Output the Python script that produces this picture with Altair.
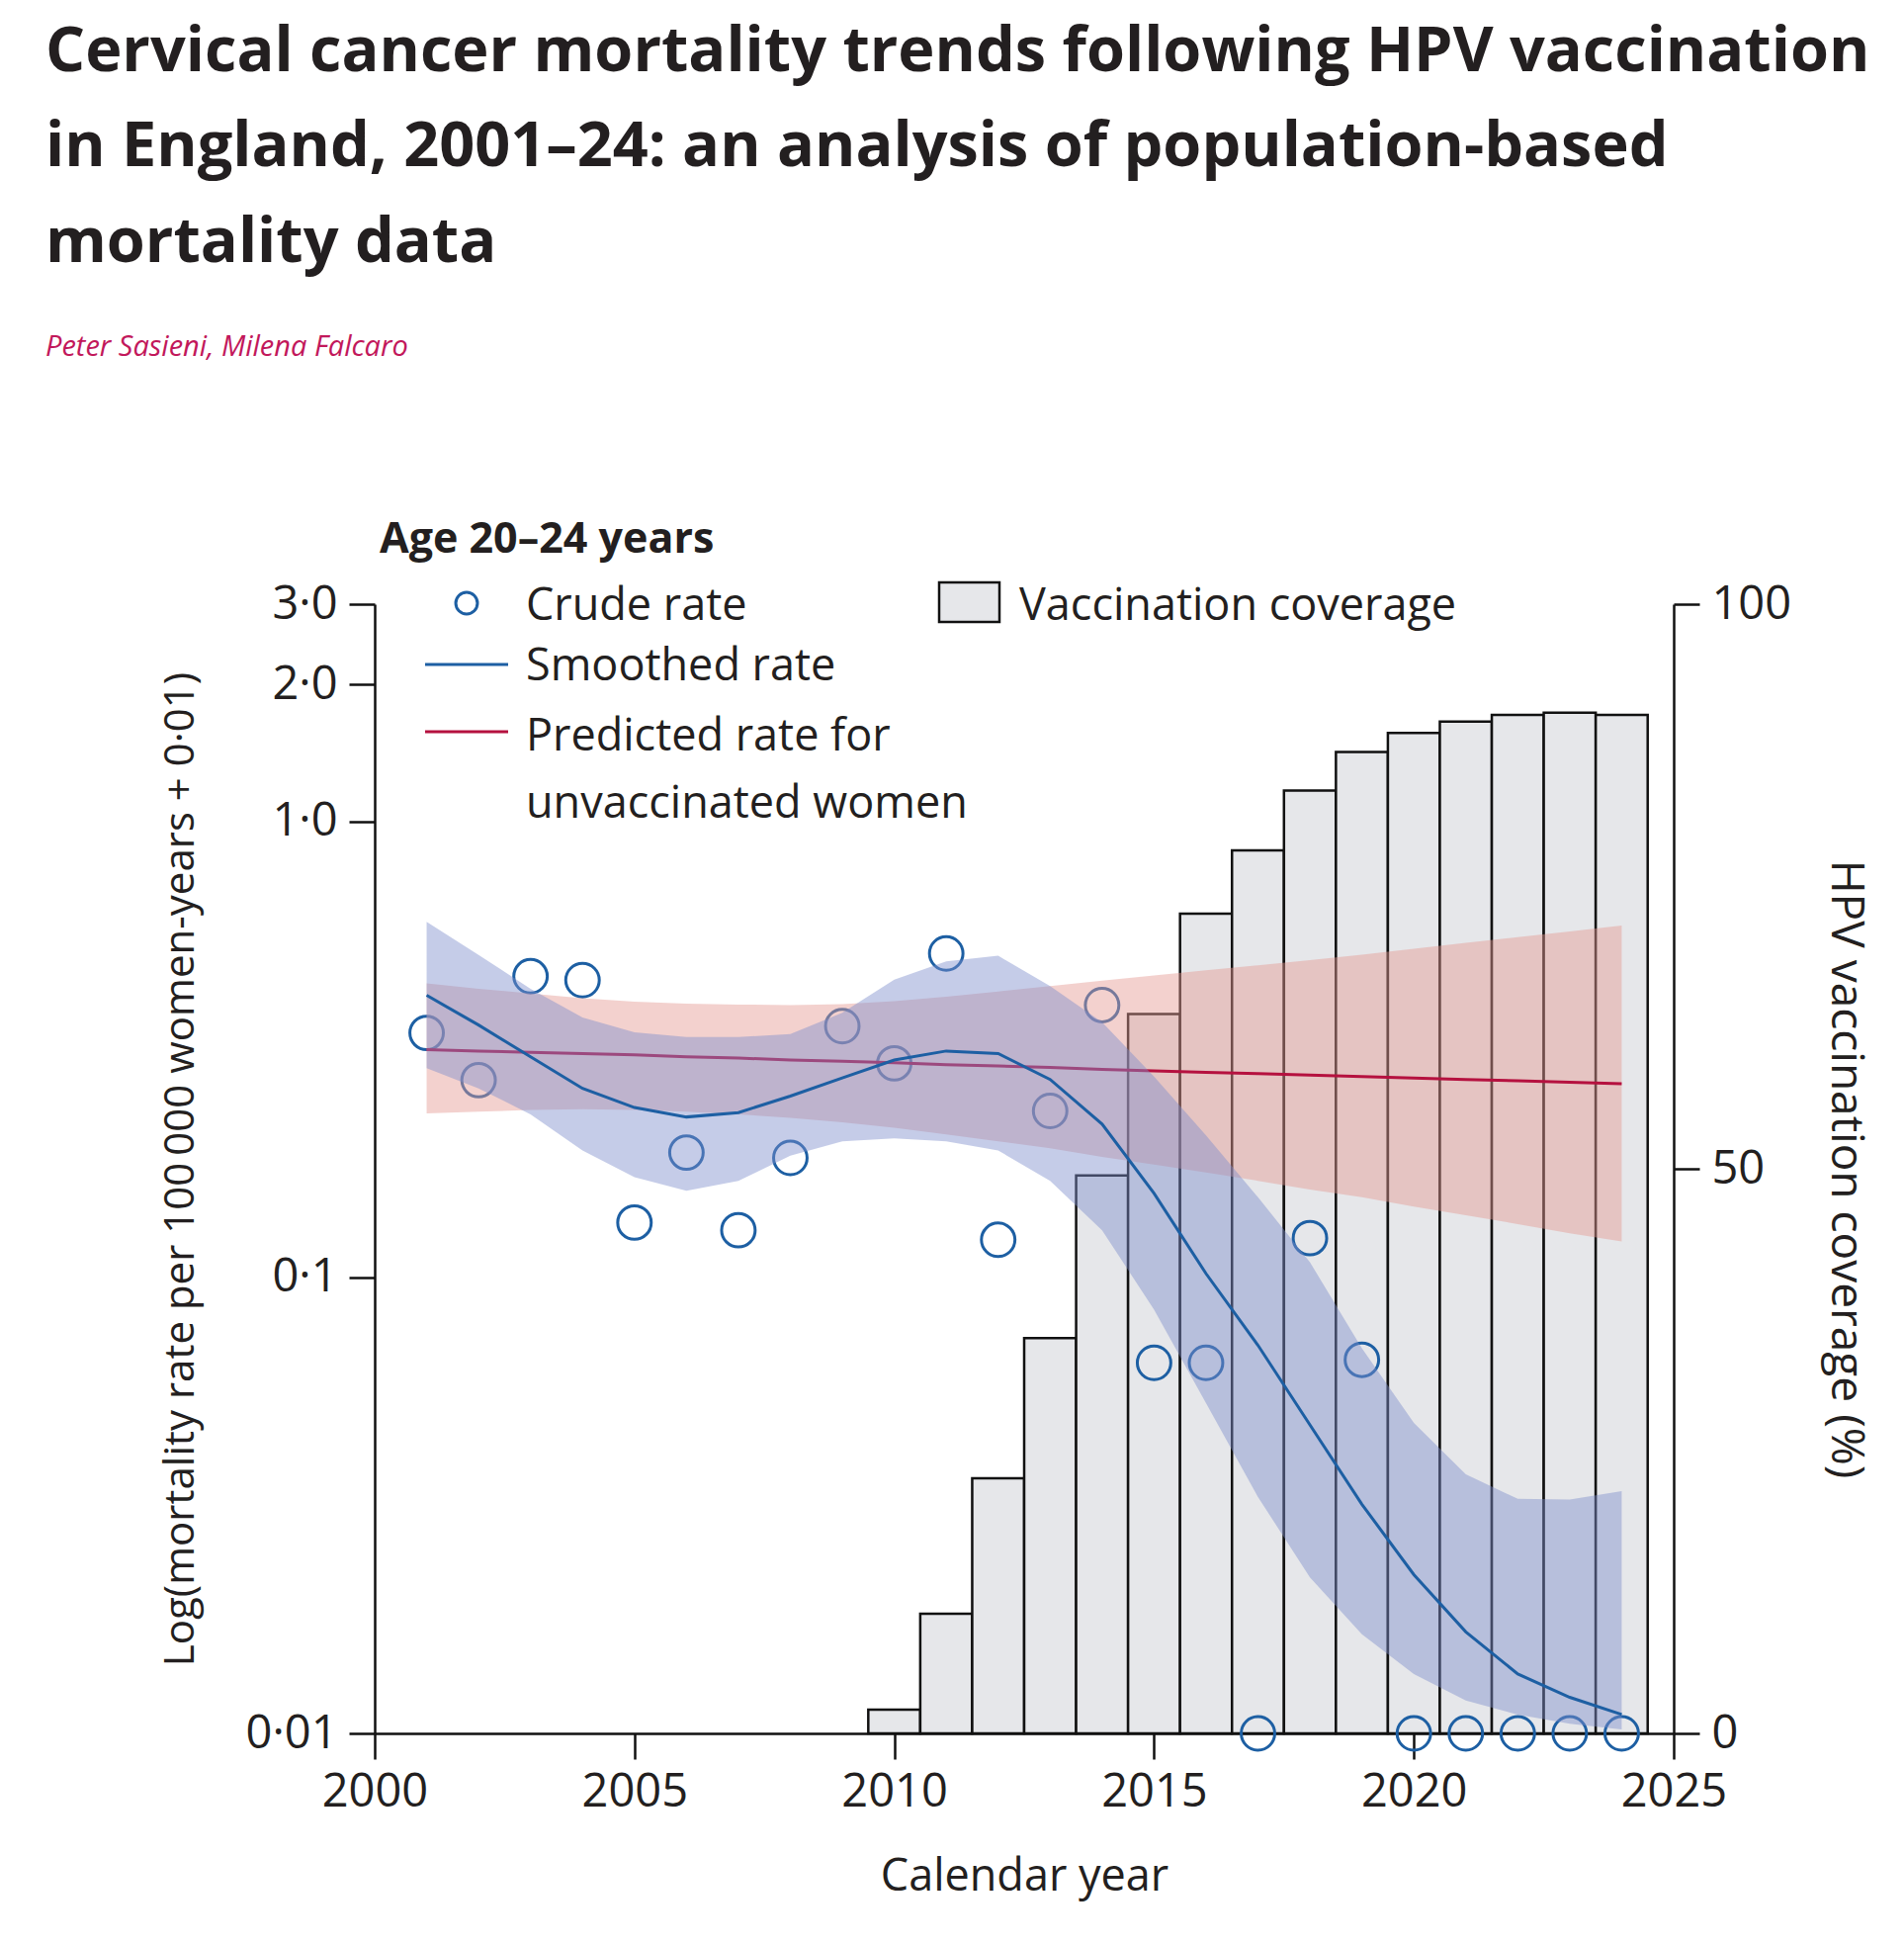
import altair as alt
import pandas as pd

# ---------------- data ----------------
years = list(range(2001, 2025))

# crude mortality rate per 100 000 women-years (plotted as rate + 0.01)
crude_rate = [0.334, 0.261, 0.448, 0.439, 0.122, 0.178, 0.117, 0.173, 0.346, 0.285,
              0.504, 0.111, 0.222, 0.386, 0.055, 0.055, 0.0, 0.112, 0.056, 0.0,
              0.0, 0.0, 0.0, 0.0]

# smoothed rate and its band, in axis units (rate + 0.01)
smoothed = [0.416, 0.358, 0.305, 0.260, 0.236, 0.225, 0.230, 0.250, 0.274, 0.300,
            0.314, 0.310, 0.272, 0.217, 0.153, 0.102, 0.071, 0.0475, 0.0318, 0.0223,
            0.0167, 0.0135, 0.0120, 0.0110]
smoothed_lo = [0.288, 0.260, 0.228, 0.190, 0.166, 0.155, 0.163, 0.185, 0.199, 0.202,
               0.199, 0.190, 0.163, 0.127, 0.085, 0.053, 0.033, 0.022, 0.0165, 0.0135,
               0.0118, 0.0110, 0.0105, 0.0102]
smoothed_hi = [0.603, 0.510, 0.430, 0.372, 0.345, 0.337, 0.337, 0.342, 0.381, 0.450,
               0.494, 0.508, 0.436, 0.363, 0.276, 0.205, 0.150, 0.108, 0.070, 0.048,
               0.037, 0.0327, 0.0326, 0.0340]

# predicted rate for unvaccinated women and its band, in axis units
predicted = [0.316, 0.314, 0.312, 0.310, 0.308, 0.305, 0.303, 0.300, 0.298, 0.296,
             0.293, 0.291, 0.289, 0.286, 0.284, 0.282, 0.280, 0.278, 0.276, 0.274,
             0.272, 0.270, 0.268, 0.266]
predicted_lo = [0.229, 0.231, 0.233, 0.234, 0.233, 0.231, 0.228, 0.224, 0.219, 0.213,
                0.206, 0.199, 0.192, 0.184, 0.177, 0.170, 0.163, 0.156, 0.150, 0.143,
                0.137, 0.131, 0.125, 0.120]
predicted_hi = [0.442, 0.430, 0.420, 0.410, 0.403, 0.399, 0.397, 0.396, 0.398, 0.404,
                0.413, 0.424, 0.436, 0.448, 0.460, 0.472, 0.484, 0.497, 0.511, 0.526,
                0.542, 0.558, 0.574, 0.592]

# HPV vaccination coverage (%)
coverage_years = list(range(2010, 2025))
coverage = [2.1, 10.6, 22.6, 35.0, 49.4, 63.7, 72.6, 78.2, 83.5, 86.9,
            88.6, 89.6, 90.2, 90.4, 90.2]

x_ticks = [2000, 2005, 2010, 2015, 2020, 2025]
y_ticks = [0.01, 0.1, 1, 2, 3]
cov_ticks = [0, 50, 100]

title_lines = ["Cervical cancer mortality trends following HPV vaccination",
               "in England, 2001–24: an analysis of population-based",
               "mortality data"]
authors = "Peter Sasieni, Milena Falcaro"
panel_title = "Age 20–24 years"
legend_labels = ["Crude rate", "Smoothed rate", "Predicted rate for",
                 "unvaccinated women", "Vaccination coverage"]

# ---------------- styling ----------------
W, H = 1314, 1142
FONT = "Open Sans"
INK = "#231f20"
BLUE = "#1d5fa3"
RED = "#b5113f"
BAR_FILL = "#e6e7ea"
PINK = "#e49993"
PERIWINKLE = "#7f8fcc"

main = pd.DataFrame({
    "year": years, "crude": crude_rate,
    "smooth": smoothed, "smooth_lo": smoothed_lo, "smooth_hi": smoothed_hi,
    "pred": predicted, "pred_lo": predicted_lo, "pred_hi": predicted_hi,
})
cov_df = pd.DataFrame({"year": coverage_years, "coverage": coverage})

x_scale = alt.Scale(domain=[2000, 2025], nice=False, zero=False)
y_scale = alt.Scale(type="log", domain=[0.01, 3], nice=False)

common_axis = dict(grid=False, domainColor="#111", domainWidth=2.5, tickColor="#111",
                   tickWidth=2.5, tickSize=26, labelFont=FONT, titleFont=FONT,
                   labelColor=INK, titleColor=INK, labelFontSize=47,
                   titleFontWeight="normal", labelOverlap=False)

x_axis = alt.Axis(values=x_ticks, format="d", title="Calendar year", labelPadding=10,
                  labelFlush=False, titleFontSize=45, titleX=W / 2, titleY=158,
                  titleBaseline="alphabetic", titleAlign="center", **common_axis)

y_axis = alt.Axis(values=y_ticks, orient="left",
                  labelExpr="datum.value < 0.05 ? '0·01' : (datum.value < 0.5 ? '0·1' : replace(format(datum.value, '.1f'), '.', '·'))",
                  title="Log(mortality rate per 100\u2009000 women-years + 0·01)",
                  labelPadding=12, titleFontSize=42, titleAngle=270, titleX=-184,
                  titleY=H / 2, titleBaseline="alphabetic", titleAlign="center",
                  **common_axis)

cov_axis = alt.Axis(values=cov_ticks, orient="right", title="HPV vaccination coverage (%)",
                    labelPadding=12, titleFontSize=46, titleAngle=90, titleX=159,
                    titleY=H / 2, titleBaseline="alphabetic", titleAlign="center",
                    **common_axis)

X = lambda f: alt.X(f, type="quantitative", scale=x_scale, axis=x_axis)

bars = alt.Chart(cov_df).transform_calculate(
    x0="datum.year - 0.5", x1="datum.year + 0.5"
).mark_rect(fill=BAR_FILL, stroke="#111", strokeWidth=2.5).encode(
    x=X("x0"), x2="x1:Q",
    y=alt.Y("coverage:Q", scale=alt.Scale(domain=[0, 100], nice=False), axis=cov_axis),
    y2=alt.datum(0),
)

base = alt.Chart(main)

points = base.transform_calculate(crude_plot="datum.crude + 0.01").mark_point(
    shape="circle", filled=False, size=1150, strokeWidth=3, color=BLUE, opacity=1
).encode(x=X("year"), y=alt.Y("crude_plot:Q", scale=y_scale, axis=y_axis))

pink_band = base.mark_area(color=PINK, opacity=0.45).encode(
    x=X("year"), y=alt.Y("pred_lo:Q", scale=y_scale, axis=y_axis), y2="pred_hi:Q")

red_line = base.mark_line(color=RED, strokeWidth=3).encode(
    x=X("year"), y=alt.Y("pred:Q", scale=y_scale, axis=y_axis))

blue_band = base.mark_area(color=PERIWINKLE, opacity=0.45).encode(
    x=X("year"), y=alt.Y("smooth_lo:Q", scale=y_scale, axis=y_axis), y2="smooth_hi:Q")

blue_line = base.mark_line(color=BLUE, strokeWidth=3).encode(
    x=X("year"), y=alt.Y("smooth:Q", scale=y_scale, axis=y_axis))


def text_layer(s, x, y, size, weight="normal", style="normal", color=INK, font=FONT):
    return alt.Chart(pd.DataFrame({"t": [s]})).mark_text(
        align="left", baseline="alphabetic", fontSize=size, fontWeight=weight,
        fontStyle=style, color=color, font=font
    ).encode(x=alt.value(x), y=alt.value(y), text="t:N")


one = pd.DataFrame({"a": [0]})

legend = [
    text_layer(panel_title, 5, -52, 43, weight="bold"),
    alt.Chart(one).mark_point(shape="circle", filled=False, size=480, strokeWidth=3,
                              color=BLUE, opacity=1).encode(x=alt.value(93), y=alt.value(-1)),
    text_layer(legend_labels[0], 153, 16, 45),
    alt.Chart(one).mark_rule(color=BLUE, strokeWidth=3).encode(
        x=alt.value(51), x2=alt.value(135), y=alt.value(61)),
    text_layer(legend_labels[1], 153, 77, 45),
    alt.Chart(one).mark_rule(color=RED, strokeWidth=3).encode(
        x=alt.value(51), x2=alt.value(135), y=alt.value(129)),
    text_layer(legend_labels[2], 153, 148, 45),
    text_layer(legend_labels[3], 153, 216, 45),
    alt.Chart(one).mark_rect(fill=BAR_FILL, stroke="#111", strokeWidth=2.5).encode(
        x=alt.value(571), x2=alt.value(632), y=alt.value(-22), y2=alt.value(18)),
    text_layer(legend_labels[4], 652, 16, 45),
]

header = [
    text_layer(title_lines[0], -333, -539, 63, weight="bold"),
    text_layer(title_lines[1], -333, -443, 63, weight="bold"),
    text_layer(title_lines[2], -333, -346, 63, weight="bold"),
    text_layer(authors, -333, -251, 29, style="italic", color="#c2185b"),
]

inner = alt.layer(points, pink_band, red_line, blue_band, blue_line, *legend, *header)

chart = alt.layer(bars, inner).resolve_scale(y="independent").properties(
    width=W, height=H,
    padding={"left": 379, "top": 611, "right": 233, "bottom": 213},
    autosize=alt.AutoSizeParams(type="none"),
    background="white",
).configure_view(stroke=None)

chart.save("out.html", embed_options={"renderer": "svg", "actions": False})
